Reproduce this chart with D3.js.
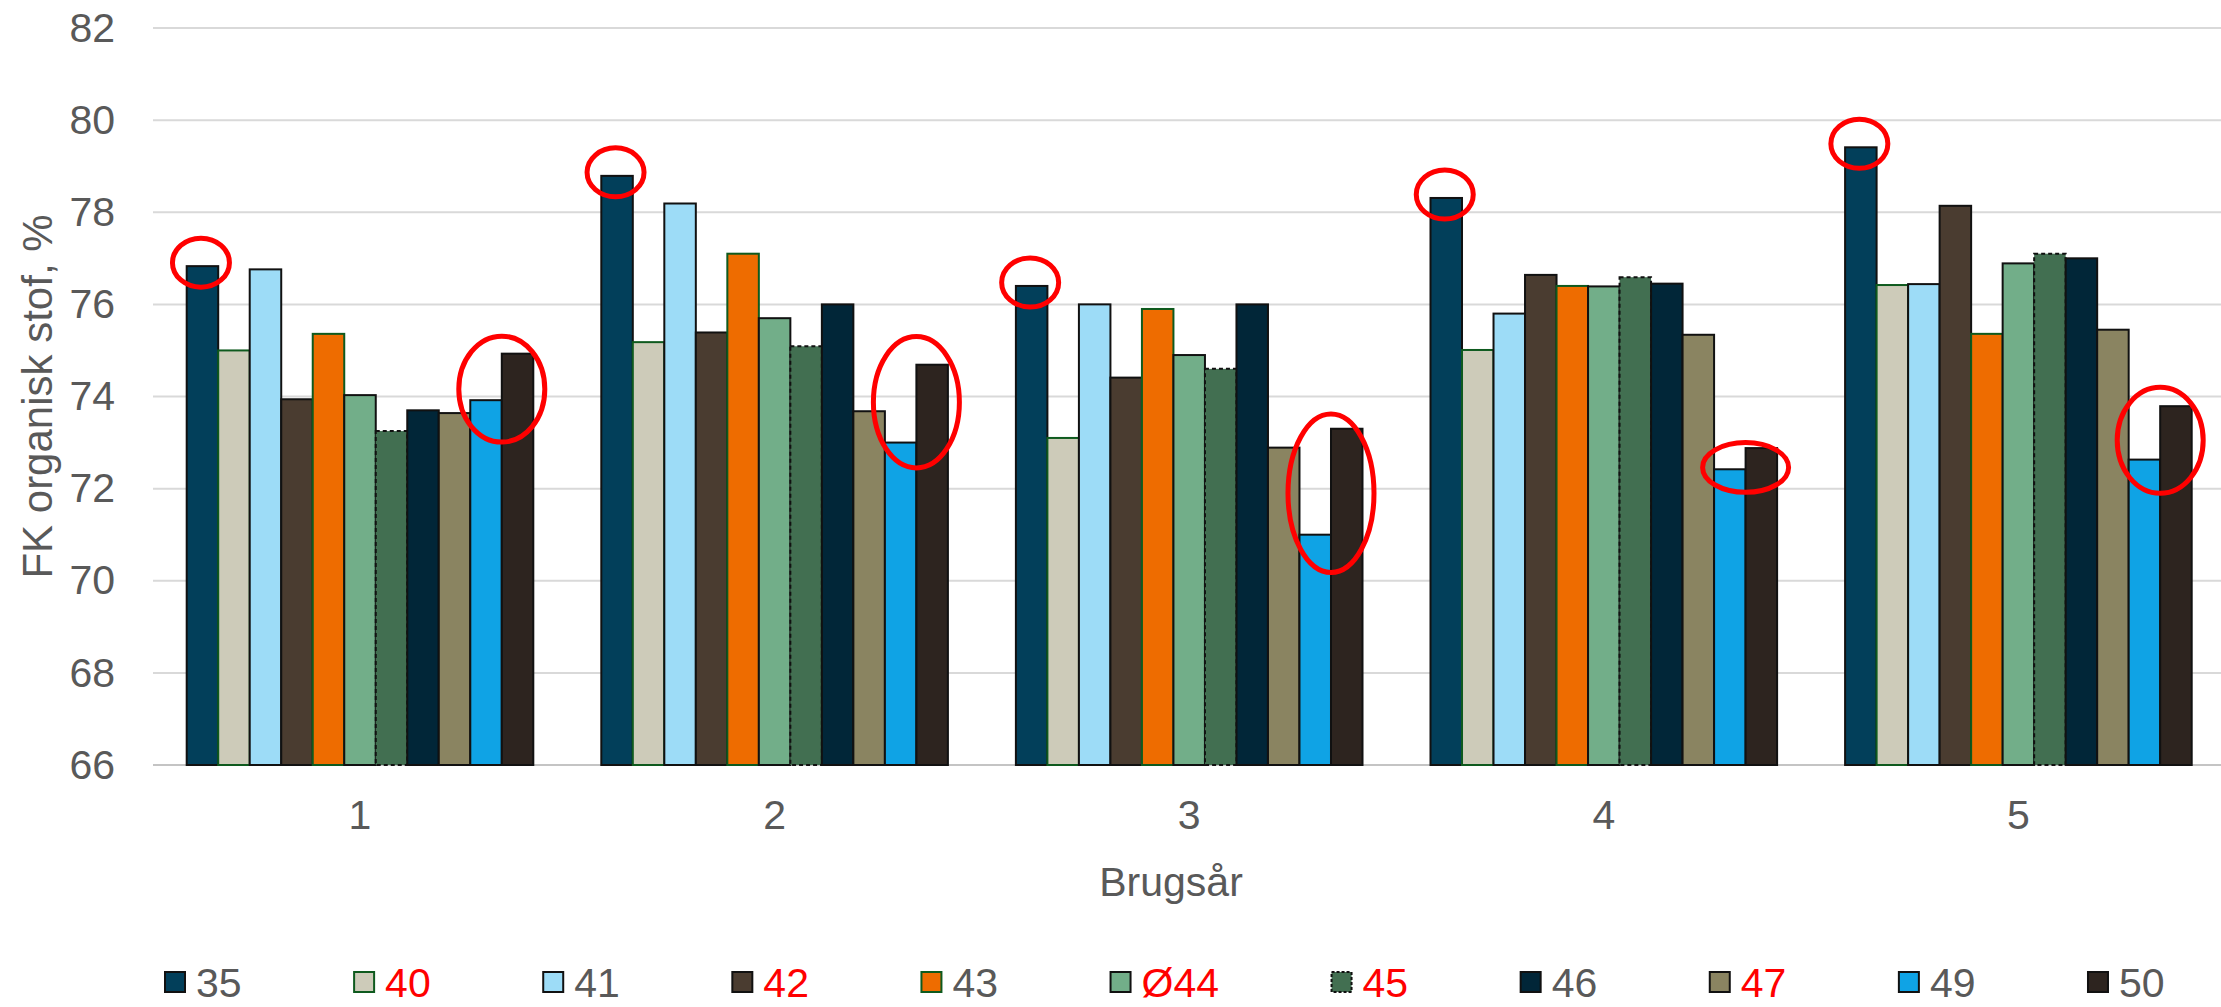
<!DOCTYPE html>
<html>
<head>
<meta charset="utf-8">
<script src="https://cdn.jsdelivr.net/npm/d3@7"></script>
<style>
  html, body { margin: 0; padding: 0; background: #fff; }
  svg { display: block; font-family: "Liberation Sans", Arial, sans-serif; }
</style>
</head>
<body>
<script>
// ---------------- DATA ----------------
const categories = ["1", "2", "3", "4", "5"];
const seriesNames = ["35", "40", "41", "42", "43", "Ø44", "45", "46", "47", "49", "50"];

const s35  = [76.83, 78.79, 76.40, 78.31, 79.41];
const s40  = [75.00, 75.18, 73.10, 75.01, 76.42];
const s41  = [76.76, 78.19, 76.00, 75.80, 76.44];
const s42  = [73.94, 75.39, 74.41, 76.64, 78.14];
const s43  = [75.36, 77.10, 75.90, 76.40, 75.36];
const s44  = [74.03, 75.70, 74.90, 76.39, 76.89];
const s45  = [73.25, 75.09, 74.60, 76.59, 77.10];
const s46  = [73.70, 76.00, 76.00, 76.45, 77.00];
const s47  = [73.64, 73.68, 72.89, 75.34, 75.45];
const s49  = [73.92, 73.00, 71.00, 72.42, 72.63];
const s50  = [74.93, 74.69, 73.30, 72.88, 73.79];
const seriesValues = [s35, s40, s41, s42, s43, s44, s45, s46, s47, s49, s50];

const yTicks = [66, 68, 70, 72, 74, 76, 78, 80, 82];
const yTitle = "FK organisk stof, %";
const xTitle = "Brugsår";

// series whose legend labels are shown in red
const redLabelSeries = ["40", "42", "Ø44", "45", "47"];

// red ring annotations around series 49/50 (value range covered by each ring)
const pairRingHigh = [75.31, 75.30, 73.62, 73.00, 74.20];
const pairRingLow  = [73.01, 72.45, 70.18, 71.92, 71.90];

// ---------------- STYLE ----------------
const fills = {
  "35": "#023F5A", "40": "#CDCBB9", "41": "#9DDCF7", "42": "#4A3C30",
  "43": "#EE6C00", "Ø44": "#72AE89", "45": "#426F51", "46": "#012638",
  "47": "#8A8461", "49": "#0FA3E5", "50": "#2D241F"
};
const strokes = {
  "40": "#0E5A1E", "43": "#0E5A1E"
};
const W = 2221, H = 1007;
const textGray = "#595959";

const svg = d3.select("body").append("svg").attr("width", W).attr("height", H);

const y = d3.scaleLinear().domain([66, 82]).range([765, 28]);
const x0 = d3.scaleBand().domain(categories).range([152.7, 2225.7])
  .paddingInner(0.164).paddingOuter(0.082);
const x1 = d3.scaleBand().domain(seriesNames).range([0, x0.bandwidth()]);

// gridlines
svg.append("g").selectAll("line").data(yTicks).join("line")
  .attr("x1", 153).attr("x2", W)
  .attr("y1", d => y(d)).attr("y2", d => y(d))
  .attr("stroke", d => d === 66 ? "#c4c4c4" : "#d9d9d9")
  .attr("stroke-width", 2);

// y axis
const yAxis = svg.append("g").attr("transform", "translate(153,0)")
  .call(d3.axisLeft(y).tickValues(yTicks).tickSize(0).tickPadding(38).tickFormat(d3.format("d")));
yAxis.select(".domain").remove();
yAxis.selectAll("text").attr("font-size", 41).attr("fill", textGray)
  .attr("font-family", "Liberation Sans, Arial, sans-serif");

// x axis labels
const xAxis = svg.append("g").attr("transform", "translate(0,765)")
  .call(d3.axisBottom(x0).tickSize(0));
xAxis.select(".domain").remove();
xAxis.selectAll("text").attr("dy", null).attr("y", 64)
  .attr("font-size", 41).attr("fill", textGray)
  .attr("font-family", "Liberation Sans, Arial, sans-serif");

// bars
const groups = svg.append("g").selectAll("g").data(categories).join("g")
  .attr("transform", c => `translate(${x0(c)},0)`);

groups.selectAll("rect")
  .data((c, ci) => seriesNames.map((s, si) => ({ s, v: seriesValues[si][ci] })))
  .join("rect")
  .attr("x", d => x1(d.s))
  .attr("y", d => y(d.v))
  .attr("width", x1.bandwidth())
  .attr("height", d => y(66) - y(d.v))
  .attr("fill", d => fills[d.s])
  .attr("stroke", d => strokes[d.s] || "#111")
  .attr("stroke-width", 2)
  .attr("stroke-dasharray", d => d.s === "45" ? "4,3" : null);

// red rings: around series 35 tops
const ringG = svg.append("g").attr("fill", "none").attr("stroke", "#FF0000").attr("stroke-width", 5);
ringG.selectAll("ellipse.top").data(categories).join("ellipse")
  .attr("class", "top")
  .attr("cx", (c) => x0(c) + x1("35") + x1.bandwidth() / 2 - 1.5)
  .attr("cy", (c, i) => y(s35[i]) - 3.5)
  .attr("rx", 28.5).attr("ry", 24.5);

// red rings around series 49 / 50
ringG.selectAll("ellipse.pair").data(categories).join("ellipse")
  .attr("class", "pair")
  .attr("cx", c => x0(c) + x1("50"))
  .attr("cy", (c, i) => (y(pairRingHigh[i]) + y(pairRingLow[i])) / 2)
  .attr("rx", 43)
  .attr("ry", (c, i) => (y(pairRingLow[i]) - y(pairRingHigh[i])) / 2);

// axis titles
svg.append("text")
  .attr("transform", "translate(52,396.5) rotate(-90)")
  .attr("text-anchor", "middle")
  .attr("font-size", 42).attr("fill", textGray)
  .text(yTitle);

svg.append("text")
  .attr("x", 1171).attr("y", 896)
  .attr("text-anchor", "middle")
  .attr("font-size", 41).attr("fill", textGray)
  .text(xTitle);

// legend
const legend = svg.append("g");
let lx = 165;
seriesNames.forEach(s => {
  const g = legend.append("g").attr("transform", `translate(${lx},0)`);
  g.append("rect")
    .attr("x", 0).attr("y", 972).attr("width", 20).attr("height", 20)
    .attr("fill", fills[s])
    .attr("stroke", strokes[s] || "#111")
    .attr("stroke-width", 2)
    .attr("stroke-dasharray", s === "45" ? "3,2" : null);
  const t = g.append("text")
    .attr("x", 31).attr("y", 997)
    .attr("font-size", 41)
    .attr("fill", redLabelSeries.includes(s) ? "#FF0000" : textGray)
    .text(s);
  const tw = t.node().getComputedTextLength();
  lx += 31 + tw + 112.5;
});
</script>
</body>
</html>
